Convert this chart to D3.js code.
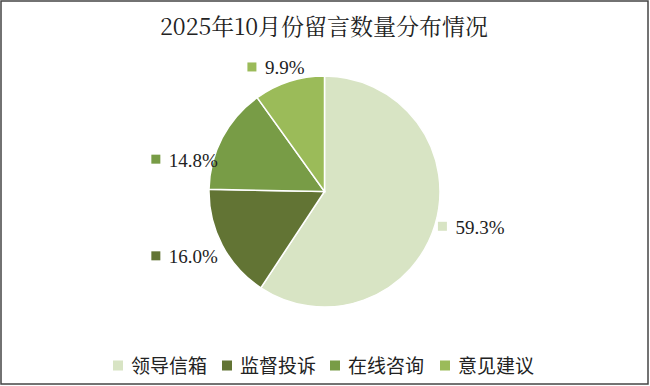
<!DOCTYPE html>
<html>
<head>
<meta charset="utf-8">
<script src="https://cdn.jsdelivr.net/npm/d3@7/dist/d3.min.js"></script>
<style>
  body { margin: 0; background: #fff; }
  svg text { fill: #222; }
</style>
</head>
<body>
<div id="chart"></div>
<script>
// chart data
const categories = ['领导信箱', '监督投诉', '在线咨询', '意见建议'];
const shares = [59.3, 16.0, 14.8, 9.9];
const labels = ['59.3%', '16.0%', '14.8%', '9.9%'];
const colours = ['#d8e4c4', '#627434', '#789c46', '#9bbb59'];

const width = 650;
const height = 386;
const cx = 324.5, cy = 191.5, radius = 115.5;

const svg = d3.select('#chart')
  .append('svg')
  .attr('width', width)
  .attr('height', height);

// outer frame
svg.append('rect')
  .attr('x', 1).attr('y', 1)
  .attr('width', width - 3).attr('height', height - 3)
  .attr('fill', '#fff')
  .attr('stroke', '#444')
  .attr('stroke-width', 1.5);

// title
svg.append('text')
  .attr('x', 324).attr('y', 35)
  .attr('text-anchor', 'middle')
  .style('font-family', '"Noto Serif CJK SC", "Noto Sans CJK SC", serif')
  .style('font-size', '23px')
  .text('2025年10月份留言数量分布情况');

// pie, clockwise from 12 o'clock
const pie = d3.pie().sort(null).value(d => d);
const arcs = pie(shares);
const arc = d3.arc().innerRadius(0).outerRadius(radius);

const g = svg.append('g').attr('transform', `translate(${cx},${cy})`);

g.selectAll('path')
  .data(arcs)
  .enter()
  .append('path')
  .attr('d', arc)
  .attr('fill', (d, i) => colours[i])
  .attr('stroke', '#fff')
  .attr('stroke-width', 1.5);

// data labels, positioned round the pie
const labelArc = d3.arc().innerRadius(radius + 40).outerRadius(radius + 40);
const labelOffsets = [[-31, -10], [-31, -8], [-31, 40], [-25, 23.5]];

const lab = svg.append('g').attr('transform', `translate(${cx},${cy})`)
  .selectAll('g')
  .data(arcs)
  .enter()
  .append('g')
  .attr('transform', (d, i) => {
    const c = labelArc.centroid(d);
    return `translate(${c[0] + labelOffsets[i][0]},${c[1] + labelOffsets[i][1]})`;
  });

lab.append('rect')
  .attr('x', -4.5).attr('y', -4.5)
  .attr('width', 9).attr('height', 9)
  .attr('fill', (d, i) => colours[i]);

lab.append('text')
  .attr('x', 13).attr('y', 7.5)
  .style('font-family', '"Liberation Serif", serif')
  .style('font-size', '19px')
  .text((d, i) => labels[i]);

// legend
const legendX = [113, 222, 330, 440];
const legend = svg.append('g')
  .selectAll('g')
  .data(categories)
  .enter()
  .append('g')
  .attr('transform', (d, i) => `translate(${legendX[i]},365.5)`);

legend.append('rect')
  .attr('x', 0).attr('y', -5)
  .attr('width', 10).attr('height', 10)
  .attr('fill', (d, i) => colours[i]);

legend.append('text')
  .attr('x', 18).attr('y', 7)
  .style('font-family', '"Noto Sans CJK SC", sans-serif')
  .style('font-size', '19px')
  .text(d => d);
</script>
</body>
</html>
